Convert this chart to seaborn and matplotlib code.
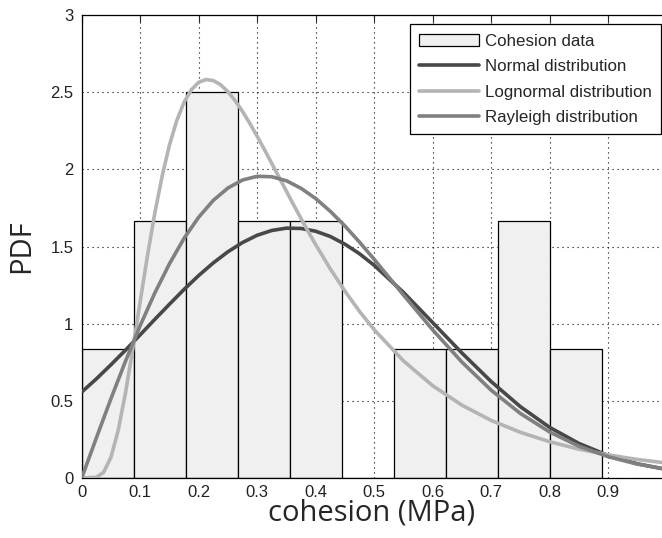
import matplotlib
matplotlib.use("Agg")
import matplotlib.pyplot as plt
import seaborn as sns
import numpy as np
import pandas as pd
from matplotlib.patches import Patch
from matplotlib.lines import Line2D

# ---- data ----
bin_edges = [0.0, 0.0889, 0.1778, 0.2667, 0.3556, 0.4445, 0.5334, 0.6223, 0.7112, 0.8001, 0.889]
bin_heights = [0.833, 1.667, 2.5, 1.667, 1.667, 0.0, 0.833, 0.833, 1.667, 0.833]

curve_x = [0.0, 0.025, 0.05, 0.075, 0.1, 0.125, 0.15, 0.175, 0.2, 0.225, 0.25, 0.275,
           0.3, 0.325, 0.35, 0.375, 0.4, 0.425, 0.45, 0.475, 0.5, 0.55, 0.6, 0.65,
           0.7, 0.75, 0.8, 0.85, 0.9, 0.95, 1.0]
normal_pdf = [0.557, 0.642, 0.734, 0.829, 0.928, 1.028, 1.126, 1.222, 1.312, 1.394, 1.466, 1.526,
              1.573, 1.604, 1.619, 1.617, 1.599, 1.565, 1.515, 1.453, 1.378, 1.203, 1.007, 0.810,
              0.625, 0.462, 0.328, 0.224, 0.146, 0.092, 0.055]
rayleigh_pdf = [0.0, 0.259, 0.514, 0.758, 0.988, 1.199, 1.388, 1.553, 1.690, 1.799, 1.879, 1.931,
                1.955, 1.952, 1.926, 1.877, 1.811, 1.728, 1.633, 1.528, 1.417, 1.186, 0.960, 0.751,
                0.569, 0.418, 0.298, 0.206, 0.138, 0.090, 0.057]

lognormal_x = [0.0, 0.025, 0.0375, 0.05, 0.0625, 0.075, 0.0875, 0.1, 0.1125, 0.125, 0.1375,
               0.15, 0.1625, 0.175, 0.1875, 0.2, 0.2125, 0.225, 0.2375, 0.25, 0.2625, 0.275,
               0.2875, 0.3, 0.3125, 0.325, 0.3375, 0.35, 0.3625, 0.375, 0.3875, 0.4, 0.425,
               0.45, 0.475, 0.5, 0.55, 0.6, 0.65, 0.7, 0.75, 0.8, 0.85, 0.9, 0.95, 1.0]
lognormal_pdf = [0.0, 0.004, 0.037, 0.134, 0.310, 0.554, 0.840, 1.144, 1.442, 1.716, 1.956,
                 2.157, 2.316, 2.435, 2.516, 2.564, 2.582, 2.575, 2.548, 2.503, 2.444, 2.375,
                 2.297, 2.214, 2.127, 2.038, 1.948, 1.858, 1.768, 1.681, 1.595, 1.512, 1.355,
                 1.211, 1.079, 0.961, 0.759, 0.598, 0.472, 0.373, 0.296, 0.235, 0.187, 0.150, 0.120, 0.097]

x_ticks = [0, 0.1, 0.2, 0.3, 0.4, 0.5, 0.6, 0.7, 0.8, 0.9]
x_tick_labels = ["0", "0.1", "0.2", "0.3", "0.4", "0.5", "0.6", "0.7", "0.8", "0.9"]
y_ticks = [0, 0.5, 1, 1.5, 2, 2.5, 3]
y_tick_labels = ["0", "0.5", "1", "1.5", "2", "2.5", "3"]
legend_labels = ["Cohesion data", "Normal distribution", "Lognormal distribution", "Rayleigh distribution"]

# ---- styling ----
sns.set_style("white")
plt.rcParams['font.family'] = ['Liberation Sans', 'DejaVu Sans']

c_bar = "#f0f0f0"
c_norm = "#484848"
c_logn = "#b4b4b4"
c_rayl = "#808080"

fig = plt.figure(figsize=(6.62, 5.38), dpi=100)
ax = fig.add_axes([0.1234, 0.1115, 0.8766, 0.8606])

centers = [(bin_edges[i] + bin_edges[i + 1]) / 2 for i in range(len(bin_heights))]
sns.histplot(x=centers, weights=bin_heights, bins=bin_edges, stat="count",
             color=c_bar, edgecolor="black", linewidth=0.9, alpha=1.0, ax=ax, zorder=2)

df = pd.DataFrame({"x": curve_x, "normal": normal_pdf, "rayl": rayleigh_pdf})
dfl = pd.DataFrame({"x": lognormal_x, "logn": lognormal_pdf})
lw = 2.6
sns.lineplot(data=df, x="x", y="normal", color=c_norm, linewidth=lw, ax=ax, zorder=3,
             solid_joinstyle="round", solid_capstyle="butt")
sns.lineplot(data=dfl, x="x", y="logn", color=c_logn, linewidth=lw, ax=ax, zorder=4,
             solid_joinstyle="round", solid_capstyle="butt")
sns.lineplot(data=df, x="x", y="rayl", color=c_rayl, linewidth=lw, ax=ax, zorder=5,
             solid_joinstyle="round", solid_capstyle="butt")

ax.set_xlim(0, 0.992)
ax.set_ylim(0, 3)
ax.set_xticks(x_ticks)
ax.set_xticklabels(x_tick_labels)
ax.set_yticks(y_ticks)
ax.set_yticklabels(y_tick_labels)

ax.set_axisbelow(True)
ax.grid(True, color="black", linestyle=(0, (1, 3.5)), linewidth=0.8)

ax.tick_params(axis="both", direction="in", length=5, width=0.8, labelsize=12,
               labelcolor="#222222", top=True, right=False)
ax.tick_params(axis="x", pad=5)
ax.tick_params(axis="y", pad=6)
for s in ["left", "bottom", "top"]:
    ax.spines[s].set_visible(True)
    ax.spines[s].set_color("black")
    ax.spines[s].set_linewidth(0.9)
ax.spines["right"].set_visible(False)

ax.set_xlabel("cohesion (MPa)", fontsize=21, family=["Open Sans", "DejaVu Sans"])
ax.set_ylabel("PDF", fontsize=21, family=["Open Sans", "DejaVu Sans"])
ax.xaxis.set_label_coords(0.5, -0.045)
ax.yaxis.set_label_coords(-0.078, 0.5)

handles = [Patch(facecolor=c_bar, edgecolor="black", linewidth=0.9),
           Line2D([], [], color=c_norm, linewidth=lw),
           Line2D([], [], color=c_logn, linewidth=lw),
           Line2D([], [], color=c_rayl, linewidth=lw)]
leg = ax.legend(handles, legend_labels, loc="upper right", bbox_to_anchor=(0.998, 0.98),
                fontsize=12.2, frameon=True, fancybox=False, framealpha=1, edgecolor="black",
                borderpad=0.55, labelspacing=0.62, handlelength=3.5, handletextpad=0.35,
                borderaxespad=0.0)
leg.get_frame().set_linewidth(0.9)

fig.savefig("out.png", dpi=100)
